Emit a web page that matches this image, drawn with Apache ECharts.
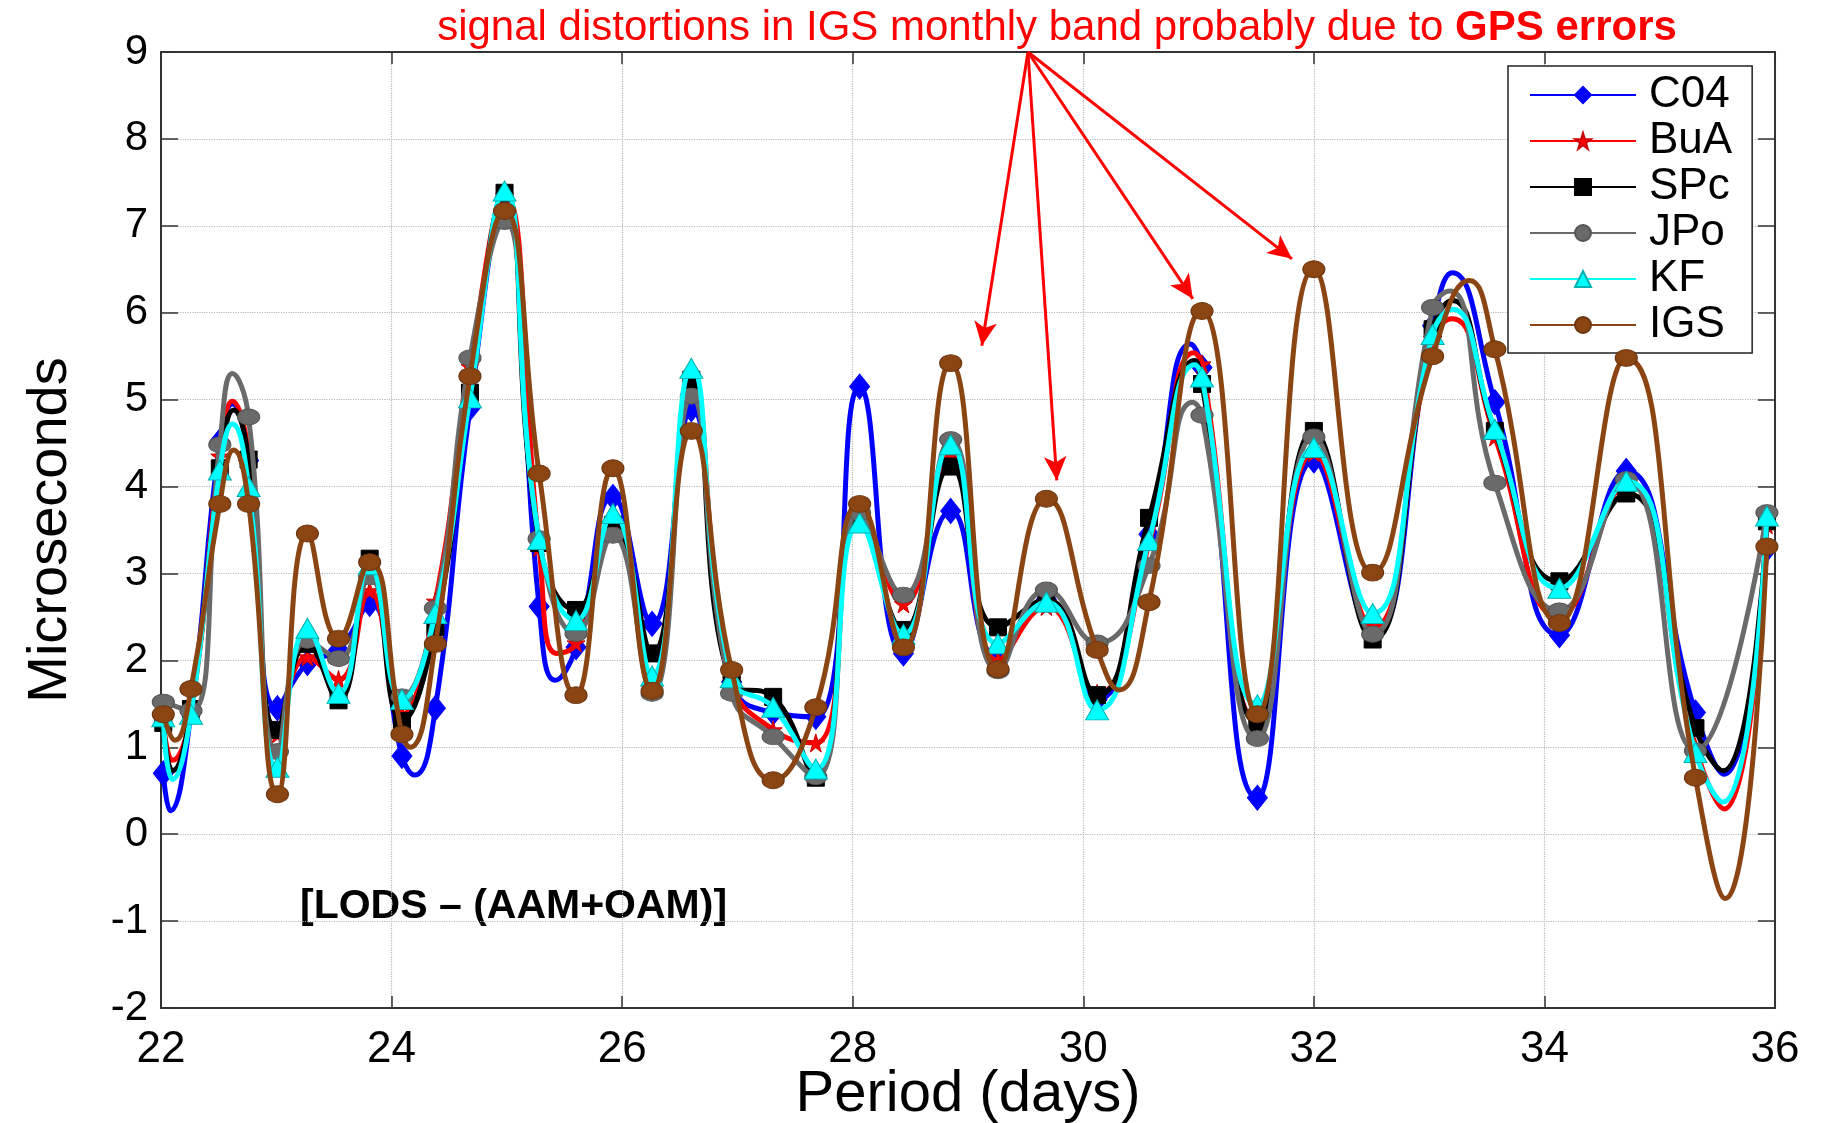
<!DOCTYPE html>
<html><head><meta charset="utf-8">
<script src="https://cdn.jsdelivr.net/npm/echarts@6/dist/echarts.min.js"></script>
<style>html,body{margin:0;padding:0;background:#fff}#c{width:1825px;height:1123px}</style>
</head><body><div id="c"></div>
<script>
// Period (days) of each spectral estimate
const periods = [22.02, 22.26, 22.51, 22.76, 23.01, 23.27, 23.54, 23.81, 24.09, 24.38,
  24.68, 24.98, 25.28, 25.60, 25.92, 26.26, 26.60, 26.95, 27.31, 27.68,
  28.06, 28.44, 28.85, 29.26, 29.68, 30.12, 30.57, 31.03, 31.51, 32.00,
  32.51, 33.03, 33.57, 34.13, 34.71, 35.31, 35.93];

// values at the markers
const C04 = [0.70, 1.40, 4.52, 4.30, 1.45, 1.97, 2.12, 2.65, 0.90, 1.45,
  4.90, 7.30, 2.62, 2.15, 3.88, 2.42, 4.89, 1.75, 1.40, 1.35,
  5.15, 2.08, 3.72, 2.04, 2.70, 1.55, 3.45, 5.37, 0.42, 4.30,
  2.30, 5.85, 4.97, 2.29, 4.18, 1.40, 3.28];
const BuA = [1.30, 1.40, 4.35, 4.38, 1.15, 2.04, 1.78, 2.80, 1.38, 2.68,
  5.38, 7.35, 3.30, 2.20, 3.58, 1.70, 5.25, 1.78, 1.20, 1.05,
  3.75, 2.65, 4.38, 2.00, 2.62, 1.62, 3.34, 5.41, 1.30, 4.39,
  2.38, 5.70, 4.57, 2.50, 4.04, 1.00, 3.56];
const SPc = [1.28, 1.44, 4.21, 4.31, 1.20, 2.19, 1.54, 3.17, 1.30, 2.38,
  5.08, 7.38, 3.35, 2.58, 3.56, 2.08, 5.23, 1.73, 1.58, 0.65,
  3.68, 2.35, 4.23, 2.38, 2.70, 1.60, 3.64, 5.18, 1.28, 4.64,
  2.24, 5.81, 4.64, 2.91, 3.92, 1.22, 3.60];
const JPo = [1.52, 1.42, 4.48, 4.80, 0.95, 2.23, 2.02, 2.96, 1.58, 2.60,
  5.48, 7.05, 3.40, 2.31, 3.44, 1.62, 5.04, 1.62, 1.12, 0.66,
  3.70, 2.75, 4.54, 1.88, 2.81, 2.20, 3.09, 4.82, 1.10, 4.57,
  2.30, 6.06, 4.04, 2.57, 4.08, 0.96, 3.70];
const KF = [1.35, 1.38, 4.19, 4.00, 0.77, 2.37, 1.62, 3.10, 1.55, 2.54,
  5.02, 7.40, 3.39, 2.46, 3.69, 1.82, 5.36, 1.80, 1.46, 0.75,
  3.58, 2.30, 4.48, 2.19, 2.67, 1.43, 3.38, 5.26, 1.49, 4.45,
  2.54, 5.75, 4.66, 2.83, 4.06, 0.94, 3.66];
const IGS = [1.38, 1.67, 3.80, 3.80, 0.46, 3.46, 2.25, 3.13, 1.15, 2.19,
  5.27, 7.17, 4.15, 1.60, 4.21, 1.65, 4.64, 1.89, 0.62, 1.46,
  3.80, 2.15, 5.42, 1.90, 3.86, 2.12, 2.67, 6.02, 1.38, 6.50,
  3.01, 5.50, 5.58, 2.43, 5.48, 0.65, 3.31];

// curve turning points between markers: [period, value]
const C04_peaks = [[22.08, 0.27], [22.62, 4.95], [24.20, 0.68], [25.42, 1.77], [30.93, 5.64], [33.20, 6.46], [35.56, 0.69]];
const BuA_peaks = [[22.10, 0.85], [22.62, 4.98], [25.43, 2.08], [30.96, 5.54], [33.20, 5.93], [35.56, 0.29]];
const SPc_peaks = [[22.10, 0.73], [22.63, 4.88], [30.97, 5.45], [33.20, 6.14], [35.55, 0.73]];
const JPo_peaks = [[22.62, 5.30], [30.95, 4.97], [33.18, 6.25]];
const KF_peaks = [[22.10, 0.63], [22.62, 4.72], [30.97, 5.40], [33.20, 6.04], [35.55, 0.37]];
const IGS_peaks = [[22.12, 1.08], [22.63, 4.42], [24.16, 1.00], [30.31, 1.66], [33.35, 6.37], [35.57, -0.74]];

const seriesNames = ['C04', 'BuA', 'SPc', 'JPo', 'KF', 'IGS'];
const seriesValues = [C04, BuA, SPc, JPo, KF, IGS];
const seriesPeaks = [C04_peaks, BuA_peaks, SPc_peaks, JPo_peaks, KF_peaks, IGS_peaks];

// annotation arrows (data coordinates): common origin and four tips
const arrowOrigin = [29.52, 9.0];
const arrowTips = [[29.12, 5.62], [29.77, 4.07], [30.95, 6.16], [31.81, 6.62]];

const xMin = 22, xMax = 36, xStep = 2;
const yMin = -2, yMax = 9, yStep = 1;

const FONT = "'Liberation Sans', Arial, Helvetica, sans-serif";
const STAR = 'path://M50,0 L61,35 L98,35 L68,57 L79,91 L50,70 L21,91 L32,57 L2,35 L39,35 Z';

const styles = [
  { color: '#0000ff', symbol: 'diamond', size: [20, 25], border: '#0000ff' },
  { color: '#ff0000', symbol: STAR, size: 18, border: '#cc0000' },
  { color: '#000000', symbol: 'rect', size: 17, border: '#000000' },
  { color: '#6a6a6a', symbol: 'circle', size: [22, 16], border: '#555555' },
  { color: '#00ffff', symbol: 'triangle', size: [23, 20], border: '#00b0b0' },
  { color: '#8b4513', symbol: 'circle', size: [22, 17], border: '#6b3510' }
];

const series = seriesNames.map((name, i) => {
  const pts = periods.map((p, k) => ({ value: [p, seriesValues[i][k]] }))
    .concat(seriesPeaks[i].map(q => ({ value: [q[0], q[1]], symbol: 'none' })))
    .sort((a, b) => a.value[0] - b.value[0]);
  const s = {
    name: name,
    type: 'line',
    xAxisIndex: 0, yAxisIndex: 0,
    data: pts,
    smooth: 0.5,
    showAllSymbol: true,
    symbol: styles[i].symbol,
    symbolSize: styles[i].size,
    lineStyle: { color: styles[i].color, width: 5 },
    itemStyle: { color: styles[i].color, borderColor: styles[i].border, borderWidth: 1 },
    emphasis: { disabled: true },
    clip: false,
    z: 2 + i
  };
  if (name === 'IGS') {
    s.markLine = {
      silent: true,
      symbol: ['none', 'arrow'],
      symbolSize: [17, 24],
      label: { show: false },
      lineStyle: { color: '#ff0000', width: 3, type: 'solid' },
      emphasis: { disabled: true },
      data: arrowTips.map(t => [{ coord: arrowOrigin }, { coord: t }])
    };
  }
  return s;
});

const axisLineStyle = { show: true, onZero: false, lineStyle: { color: '#333', width: 2 } };

const chart = echarts.init(document.getElementById('c'), null, { renderer: 'canvas' });
chart.setOption({
  animation: false,
  backgroundColor: '#ffffff',
  textStyle: { fontFamily: FONT },
  grid: { left: 161, right: 50, top: 52, bottom: 115, containLabel: false, outerBoundsMode: 'none' },
  legend: {
    data: seriesNames,
    orient: 'vertical',
    left: 1508, top: 66,
    itemWidth: 106, itemHeight: 20, itemGap: 2,
    padding: [7, 20, 6, 21],
    backgroundColor: '#ffffff',
    borderColor: '#222222', borderWidth: 1.5,
    selectedMode: false,
    textStyle: { fontSize: 44, color: '#000', fontFamily: FONT, padding: [0, 0, 0, 8] }
  },
  xAxis: [{
    type: 'value', min: xMin, max: xMax, interval: xStep,
    name: 'Period (days)', nameLocation: 'middle', nameGap: 58, nameMoveOverlap: false,
    nameTextStyle: { fontSize: 58, color: '#000', fontFamily: FONT },
    axisLine: axisLineStyle,
    axisTick: { show: true, inside: true, length: 12, lineStyle: { color: '#333', width: 1.5 } },
    axisLabel: { fontSize: 44, color: '#000', margin: 20, fontFamily: FONT },
    splitLine: { show: true, lineStyle: { color: '#b8b8b8', type: 'dotted', width: 1.2 } }
  }, {
    type: 'value', min: xMin, max: xMax, interval: xStep, position: 'top',
    axisLine: axisLineStyle,
    axisTick: { show: true, inside: true, length: 12, lineStyle: { color: '#333', width: 1.5 } },
    axisLabel: { show: false }, splitLine: { show: false }
  }],
  yAxis: [{
    type: 'value', min: yMin, max: yMax, interval: yStep,
    name: 'Microseconds', nameLocation: 'middle', nameGap: 82, nameRotate: 90, nameMoveOverlap: false,
    nameTextStyle: { fontSize: 56, color: '#000', fontFamily: FONT },
    axisLine: axisLineStyle,
    axisTick: { show: true, inside: true, length: 17, lineStyle: { color: '#333', width: 1.5 } },
    axisLabel: { fontSize: 42, color: '#000', margin: 13, fontFamily: FONT },
    splitLine: { show: true, lineStyle: { color: '#b8b8b8', type: 'dotted', width: 1.2 } }
  }, {
    type: 'value', min: yMin, max: yMax, interval: yStep, position: 'right',
    axisLine: axisLineStyle,
    axisTick: { show: true, inside: true, length: 17, lineStyle: { color: '#333', width: 1.5 } },
    axisLabel: { show: false }, splitLine: { show: false }
  }],
  graphic: [
    {
      type: 'text', x: 1057, y: 28, silent: true,
      style: {
        text: '{n|signal distortions in IGS monthly band probably due to }{b|GPS errors}',
        align: 'center', verticalAlign: 'middle',
        rich: {
          n: { fontSize: 42, fill: '#ff0000', fontFamily: FONT },
          b: { fontSize: 42, fill: '#ff0000', fontWeight: 'bold', fontFamily: FONT }
        }
      }
    },
    {
      type: 'text', left: 300, top: 886, silent: true,
      style: { text: '[LODS \u2013 (AAM+OAM)]', fontSize: 41, fontWeight: 'bold', fill: '#000', fontFamily: FONT }
    }
  ],
  series: series
});
</script></body></html>
